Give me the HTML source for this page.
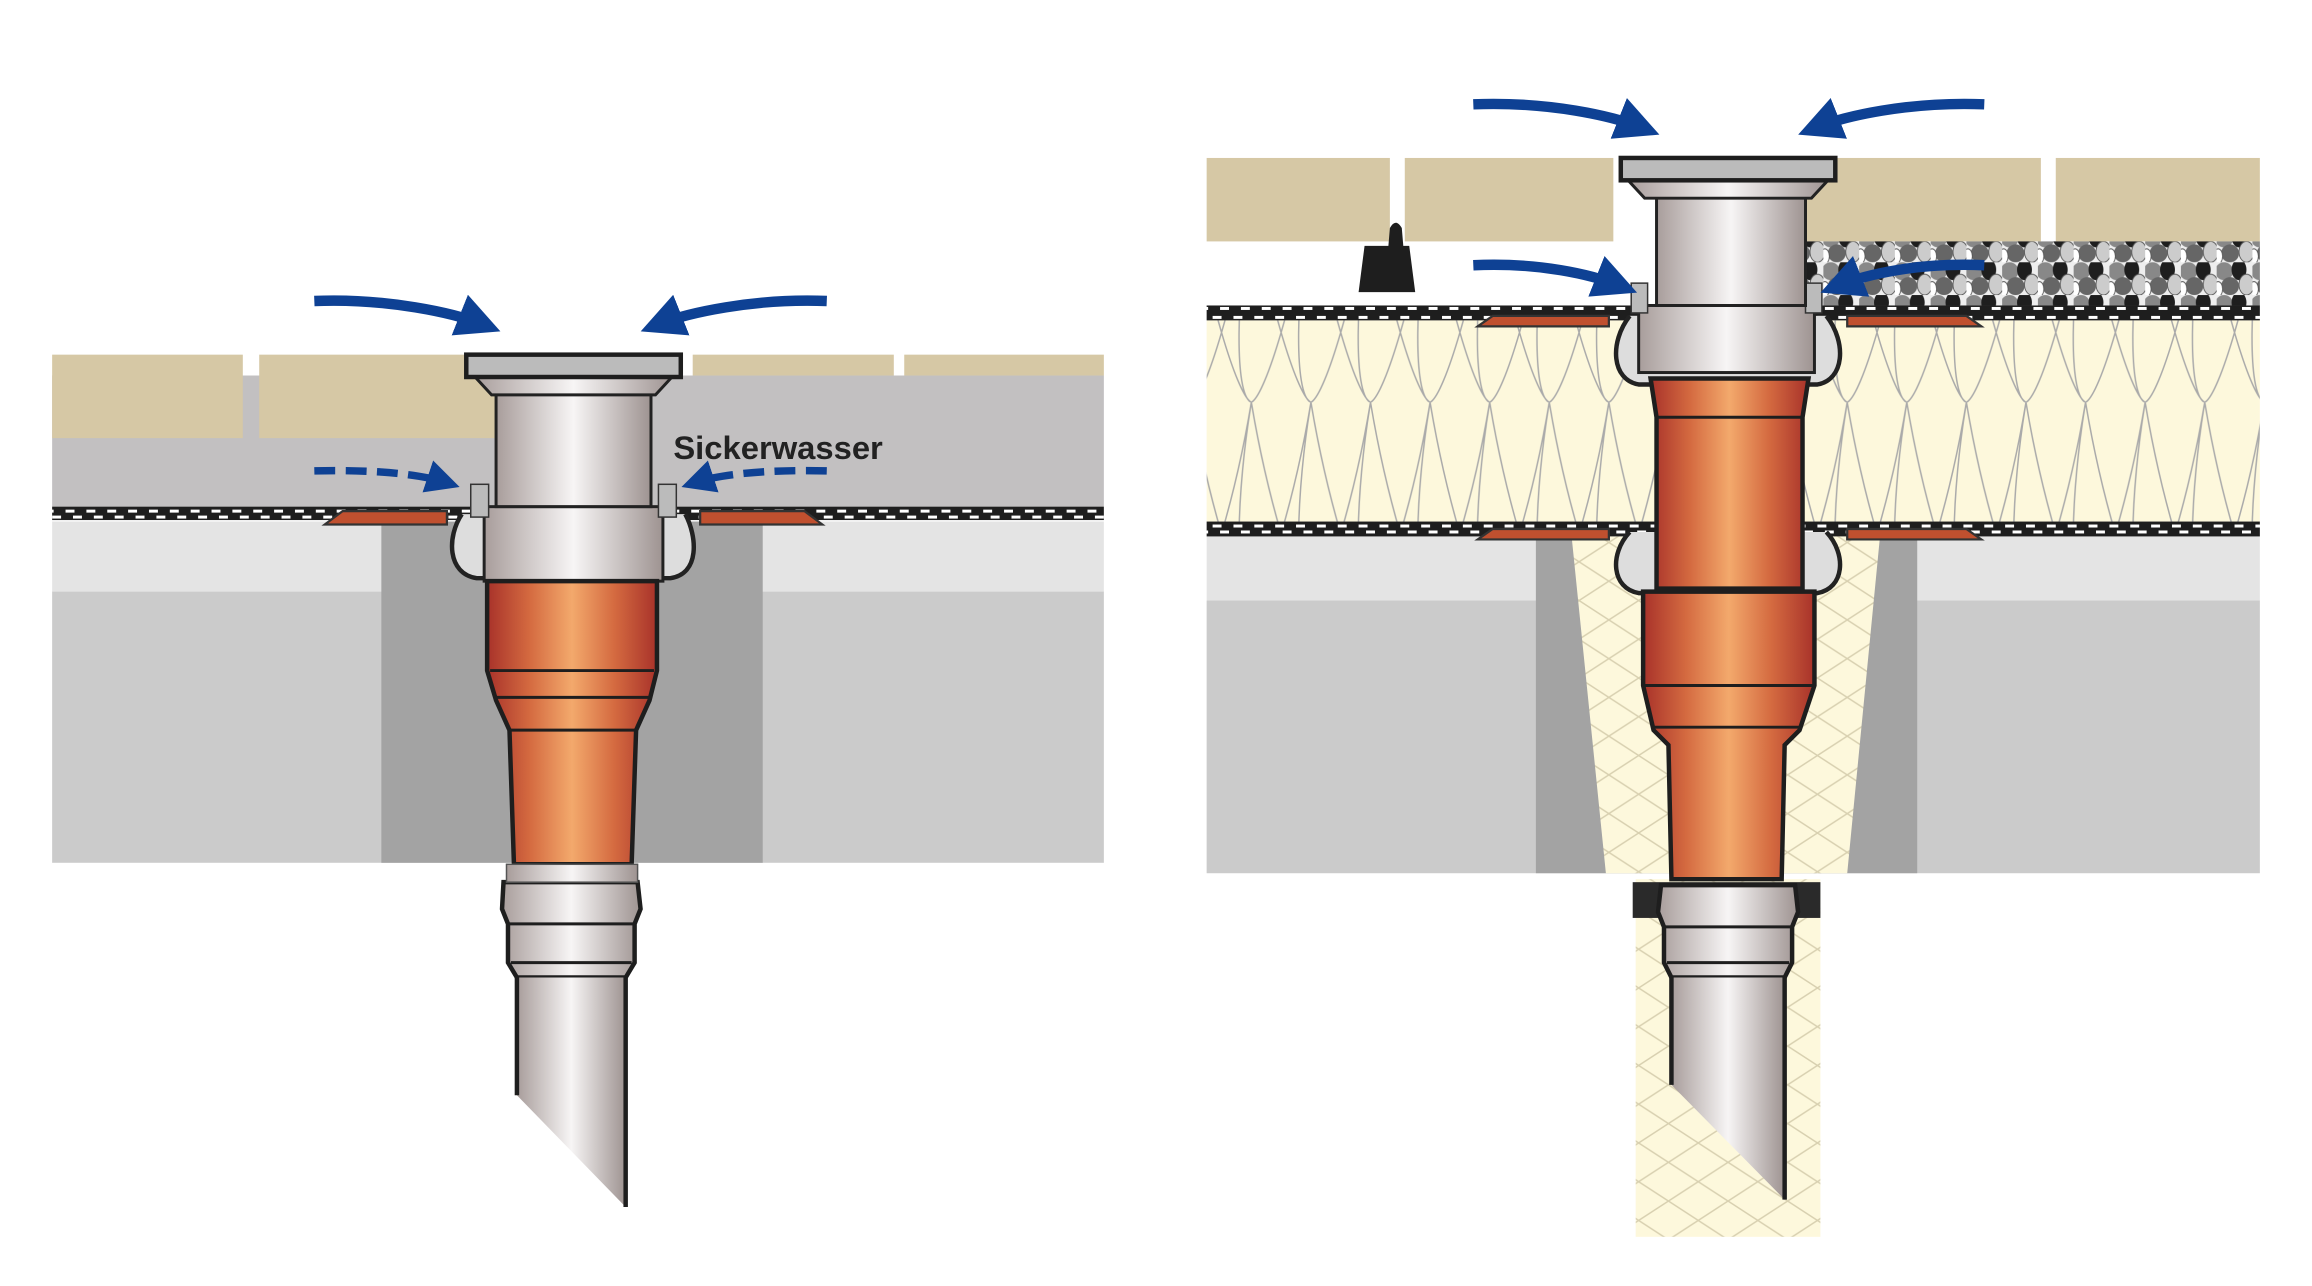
<!DOCTYPE html>
<html><head><meta charset="utf-8"><style>
html,body{margin:0;padding:0;background:#fff}
svg{display:block}
</style></head><body>
<svg width="2312" height="1286" viewBox="0 0 1552 863" preserveAspectRatio="none" xmlns="http://www.w3.org/2000/svg">
<defs>
<linearGradient id="steel" x1="0" x2="1" y1="0" y2="0">
<stop offset="0" stop-color="#a89d9b"/><stop offset="0.5" stop-color="#f7f5f5"/><stop offset="1" stop-color="#9e9391"/></linearGradient>
<linearGradient id="cu" x1="0" x2="1" y1="0" y2="0">
<stop offset="0" stop-color="#a8322a"/><stop offset="0.25" stop-color="#d46a40"/><stop offset="0.5" stop-color="#f3a96c"/><stop offset="0.75" stop-color="#d46a40"/><stop offset="1" stop-color="#a8322a"/></linearGradient>
<pattern id="memb" width="14" height="10" patternUnits="userSpaceOnUse">
<rect width="14" height="10" fill="#1e1e1e"/><rect x="2" y="2" width="6" height="2" fill="#fff"/><rect x="7" y="6" width="6" height="2" fill="#fff"/></pattern>
<pattern id="ins" width="40" height="135" patternUnits="userSpaceOnUse">
<rect width="40" height="135" fill="#fdf8dc"/>
<path d="M0,0 C-10,60 -12,130 0,135 M40,0 C30,60 28,130 40,135 M0,0 C10,60 30,130 40,135 M40,0 C30,60 10,130 0,135" fill="none" stroke="#aaa" stroke-width="1"/></pattern>
<pattern id="xins" width="40" height="26" patternUnits="userSpaceOnUse">
<rect width="40" height="26" fill="#fdf8dc"/><path d="M0,0 L40,26 M40,0 L0,26" stroke="#d8d0b0" stroke-width="1"/></pattern>
<pattern id="grav" width="24" height="22" patternUnits="userSpaceOnUse">
<rect width="24" height="22" fill="#eee"/>
<ellipse cx="5" cy="6" rx="6" ry="6" fill="#888"/><ellipse cx="15" cy="5" rx="5" ry="7" fill="#1e1e1e"/><ellipse cx="20" cy="15" rx="5" ry="7" fill="#ccc" stroke="#555" stroke-width=".6"/><ellipse cx="9" cy="16" rx="6" ry="6" fill="#666"/><ellipse cx="1" cy="18" rx="3" ry="5" fill="#fff" stroke="#555" stroke-width=".6"/></pattern>
<marker id="ah" viewBox="0 0 10 10" refX="6" refY="5" markerWidth="4.2" markerHeight="4.2" orient="auto"><path d="M0,0 L10,5 L0,10 z" fill="#0e4194"/></marker>
<marker id="ah2" viewBox="0 0 10 10" refX="6" refY="5" markerWidth="4.5" markerHeight="4.5" orient="auto"><path d="M0,0 L10,5 L0,10 z" fill="#0e4194"/></marker>
</defs>

<!-- LEFT DIAGRAM -->
<rect x="35" y="252" width="706" height="88" fill="#c2c0c1"/>
<rect x="35" y="238" width="128" height="56" fill="#d6c8a5"/>
<rect x="174" y="238" width="160" height="56" fill="#d6c8a5"/>
<rect x="465" y="238" width="135" height="14" fill="#d6c8a5"/>
<rect x="607" y="238" width="134" height="14" fill="#d6c8a5"/>
<rect x="35" y="350" width="706" height="47" fill="#e4e4e4"/>
<rect x="35" y="397" width="706" height="182" fill="#cbcbcb"/>
<rect x="256" y="350" width="256" height="229" fill="#a3a3a3"/>
<rect x="35" y="340" width="706" height="9" fill="url(#memb)"/>
<path d="M218,352 L230,343 L300,343 L300,352 Z" fill="#c0502f" stroke="#333" stroke-width="1.5"/>
<path d="M552,352 L540,343 L470,343 L470,352 Z" fill="#c0502f" stroke="#333" stroke-width="1.5"/>
<path d="M310,345 C300,360 300,385 320,388 L450,388 C470,385 468,360 460,345" fill="#ddd" stroke="#222" stroke-width="3"/>
<rect x="325" y="340" width="120" height="50" fill="url(#steel)" stroke="#222" stroke-width="2"/>
<rect x="316" y="325" width="12" height="22" fill="#bbb" stroke="#333"/>
<rect x="442" y="325" width="12" height="22" fill="#bbb" stroke="#333"/>
<path d="M333,254 L437,254 L437,340 L333,340 Z" fill="url(#steel)" stroke="#222" stroke-width="2"/>
<path d="M318,252 L452,252 L440,265 L330,265 Z" fill="url(#steel)" stroke="#222" stroke-width="2"/>
<rect x="313" y="238" width="144" height="15" fill="#bbb" stroke="#1e1e1e" stroke-width="3"/>
<path d="M327,390 L441,390 L441,450 L436,470 L427,490 L424,580 L345,580 L342,490 L333,470 L327,450 Z" fill="url(#cu)" stroke="#1e1e1e" stroke-width="3"/>
<line x1="329" y1="450" x2="439" y2="450" stroke="#1e1e1e" stroke-width="2"/>
<line x1="333" y1="468" x2="436" y2="468" stroke="#1e1e1e" stroke-width="2"/>
<line x1="342" y1="490" x2="427" y2="490" stroke="#1e1e1e" stroke-width="2"/>
<path d="M338,592 L428,592 L430,610 L426,620 L426,646 L420,656 L347,656 L341,646 L341,620 L337,610 Z" fill="url(#steel)" stroke="#1e1e1e" stroke-width="3"/>
<rect x="340" y="580" width="88" height="12" fill="url(#steel)" stroke="#555"/>
<line x1="341" y1="620" x2="426" y2="620" stroke="#1e1e1e" stroke-width="2"/>
<line x1="343" y1="646" x2="424" y2="646" stroke="#1e1e1e" stroke-width="2"/>
<path d="M347,656 L420,656 L420,810 L347,735 Z" fill="url(#steel)"/>
<path d="M347,656 L347,735 M420,656 L420,810" stroke="#1e1e1e" stroke-width="3"/>
<path d="M211,202 C260,200 305,210 325,218" fill="none" stroke="#0e4194" stroke-width="7" marker-end="url(#ah)"/>
<path d="M555,202 C506,200 461,210 441,218" fill="none" stroke="#0e4194" stroke-width="7" marker-end="url(#ah)"/>
<path d="M211,316 C250,315 282,318 300,324" fill="none" stroke="#0e4194" stroke-width="5" stroke-dasharray="14 7" marker-end="url(#ah2)"/>
<path d="M555,316 C516,315 484,318 466,324" fill="none" stroke="#0e4194" stroke-width="5" stroke-dasharray="14 7" marker-end="url(#ah2)"/>
<text x="452" y="308" font-family="Liberation Sans, sans-serif" font-weight="bold" font-size="22" fill="#222">Sickerwasser</text>

<!-- RIGHT DIAGRAM -->
<rect x="810" y="106" width="123" height="56" fill="#d6c8a5"/>
<rect x="943" y="106" width="140" height="56" fill="#d6c8a5"/>
<rect x="1210" y="106" width="160" height="56" fill="#d6c8a5"/>
<rect x="1380" y="106" width="137" height="56" fill="#d6c8a5"/>
<rect x="1212" y="162" width="305" height="43" fill="url(#grav)"/>
<path d="M912,196 L916,165 L932,165 L933,153 Q937,146 941,153 L942,165 L946,165 L950,196 Z" fill="#1e1e1e"/>
<rect x="810" y="215" width="707" height="135" fill="url(#ins)"/>
<rect x="810" y="205" width="707" height="10" fill="url(#memb)"/>
<rect x="810" y="350" width="707" height="10" fill="url(#memb)"/>
<rect x="810" y="360" width="707" height="43" fill="#e4e4e4"/>
<rect x="810" y="403" width="707" height="183" fill="#cbcbcb"/>
<rect x="1031" y="360" width="256" height="226" fill="#a3a3a3"/>
<path d="M1055,360 L1262,360 L1240,586 L1078,586 Z" fill="url(#xins)"/>
<rect x="1098" y="590" width="124" height="240" fill="url(#xins)"/>
<path d="M992,219 L1002,212 L1080,212 L1080,219 Z" fill="#c0502f" stroke="#333" stroke-width="1.5"/>
<path d="M1330,219 L1320,212 L1240,212 L1240,219 Z" fill="#c0502f" stroke="#333" stroke-width="1.5"/>
<path d="M992,362 L1002,355 L1080,355 L1080,362 Z" fill="#c0502f" stroke="#333" stroke-width="1.5"/>
<path d="M1330,362 L1320,355 L1240,355 L1240,362 Z" fill="#c0502f" stroke="#333" stroke-width="1.5"/>
<path d="M1094,212 C1080,230 1082,255 1100,258 L1220,258 C1238,255 1240,230 1226,212" fill="#ddd" stroke="#222" stroke-width="3"/>
<path d="M1094,357 C1080,372 1082,395 1100,398 L1220,398 C1238,395 1240,372 1226,357" fill="#ddd" stroke="#222" stroke-width="3"/>
<rect x="1100" y="205" width="118" height="45" fill="url(#steel)" stroke="#222" stroke-width="2"/>
<rect x="1095" y="190" width="11" height="20" fill="#bbb" stroke="#333"/>
<rect x="1212" y="190" width="11" height="20" fill="#bbb" stroke="#333"/>
<path d="M1112,122 L1212,122 L1212,205 L1112,205 Z" fill="url(#steel)" stroke="#222" stroke-width="2"/>
<path d="M1092,120 L1228,120 L1216,133 L1104,133 Z" fill="url(#steel)" stroke="#222" stroke-width="2"/>
<rect x="1088" y="106" width="144" height="15" fill="#bbb" stroke="#1e1e1e" stroke-width="3"/>
<path d="M1108,254 L1214,254 L1210,280 L1210,395 L1112,395 L1112,280 Z" fill="url(#cu)" stroke="#1e1e1e" stroke-width="3"/>
<line x1="1112" y1="280" x2="1210" y2="280" stroke="#1e1e1e" stroke-width="2"/>
<path d="M1103,397 L1218,397 L1218,460 L1208,490 L1198,500 L1196,590 L1122,590 L1120,500 L1110,490 L1103,460 Z" fill="url(#cu)" stroke="#1e1e1e" stroke-width="3"/>
<line x1="1104" y1="460" x2="1217" y2="460" stroke="#1e1e1e" stroke-width="2"/>
<line x1="1110" y1="488" x2="1208" y2="488" stroke="#1e1e1e" stroke-width="2"/>
<rect x="1096" y="592" width="126" height="24" fill="#2a2a2a"/>
<path d="M1115,594 L1205,594 L1207,612 L1203,622 L1203,646 L1198,656 L1122,656 L1117,646 L1117,622 L1113,612 Z" fill="url(#steel)" stroke="#1e1e1e" stroke-width="3"/>
<line x1="1117" y1="622" x2="1203" y2="622" stroke="#1e1e1e" stroke-width="2"/>
<line x1="1119" y1="646" x2="1201" y2="646" stroke="#1e1e1e" stroke-width="2"/>
<path d="M1122,656 L1198,656 L1198,805 L1122,728 Z" fill="url(#steel)"/>
<path d="M1122,656 L1122,728 M1198,656 L1198,805" stroke="#1e1e1e" stroke-width="3"/>
<path d="M989,70 C1040,68 1083,78 1103,86" fill="none" stroke="#0e4194" stroke-width="7" marker-end="url(#ah)"/>
<path d="M1332,70 C1281,68 1238,78 1218,86" fill="none" stroke="#0e4194" stroke-width="7" marker-end="url(#ah)"/>
<path d="M989,178 C1033,176 1068,184 1088,192" fill="none" stroke="#0e4194" stroke-width="7" marker-end="url(#ah)"/>
<path d="M1332,178 C1288,176 1253,184 1233,192" fill="none" stroke="#0e4194" stroke-width="7" marker-end="url(#ah)"/>
</svg>
</body></html>
